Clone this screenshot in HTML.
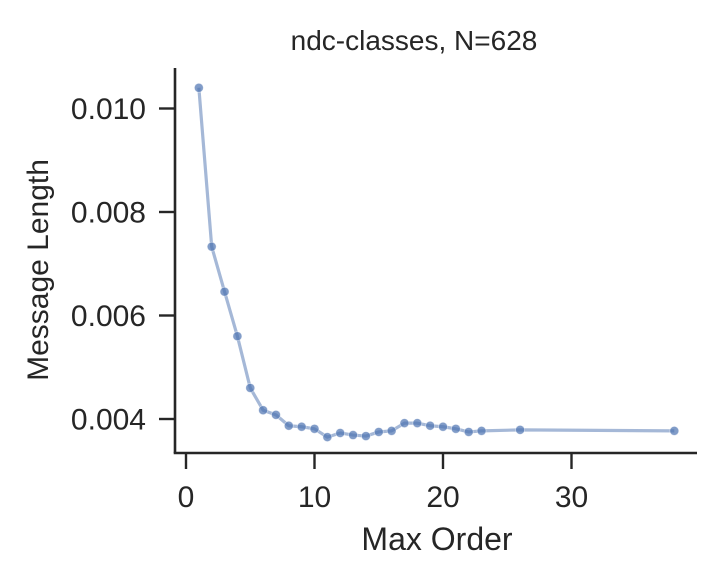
<!DOCTYPE html>
<html><head><meta charset="utf-8"><style>
html,body{margin:0;padding:0;background:#fff;}
svg{display:block;font-family:"Liberation Sans",Arial,sans-serif;}
</style></head><body>
<svg id="chart" width="723" height="582" viewBox="0 0 723 582"></svg>
<script>
const maxOrders=[1,2,3,4,5,6,7,8,9,10,11,12,13,14,15,16,17,18,19,20,21,22,23,26,38];
const messageLengths=[0.01040,0.00733,0.00646,0.00560,0.00460,0.00417,0.00408,0.00387,0.00385,0.00381,0.00365,0.00373,0.00369,0.00367,0.00375,0.00377,0.00392,0.00392,0.00387,0.00385,0.00381,0.00375,0.00377,0.00379,0.00377];
const xTicks=[0,10,20,30];
const yTicks=[0.004,0.006,0.008,0.010];
const yTickLabels=["0.004","0.006","0.008","0.010"];

const NS="http://www.w3.org/2000/svg";
const svg=document.getElementById('chart');
function X(v){return 186+v*12.85;}
function Y(v){return 419-(v-0.004)/0.002*103.5;}
function mk(t,a,p){const e=document.createElementNS(NS,t);for(const k in a)e.setAttribute(k,a[k]);(p||svg).appendChild(e);return e;}
const L=175,R=697,T=68,B=453;
let s=mk('line',{x1:L,y1:T,x2:L,y2:B,stroke:'#262626','stroke-width':2.6});


s=mk('line',{x1:L-1.3,y1:B,x2:R,y2:B,stroke:'#262626','stroke-width':2.6});


xTicks.forEach(v=>{
  const l=mk('line',{x1:X(v),y1:B,x2:X(v),y2:B+16,stroke:'#262626','stroke-width':2.4});
  
  
  const t=mk('text',{x:X(v),y:507,'text-anchor':'middle','font-size':30,fill:'#262626'});
  t.textContent=v;
  
  
});
yTicks.forEach((v,i)=>{
  const l=mk('line',{x1:L-16,y1:Y(v),x2:L,y2:Y(v),stroke:'#262626','stroke-width':2.4});
  
  
  const t=mk('text',{x:146,y:Y(v)+10.5,'text-anchor':'end','font-size':30,fill:'#262626'});
  t.textContent=yTickLabels[i];
  
  
});
let pts=maxOrders.map((o,i)=>X(o)+','+Y(messageLengths[i])).join(' ');
const line=mk('polyline',{points:pts,fill:'none',stroke:'#4c72b0','stroke-opacity':0.5,'stroke-width':3.2,'stroke-linejoin':'round'});


maxOrders.forEach((o,i)=>{
  const c=mk('circle',{cx:X(o),cy:Y(messageLengths[i]),r:4.5,fill:'#4c72b0','fill-opacity':0.7,stroke:'#fff','stroke-width':0.8,'stroke-opacity':0.5});
  
  
});
let t=mk('text',{x:437,y:550,'text-anchor':'middle','font-size':32,fill:'#262626'});
t.textContent='Max Order';


t=mk('text',{x:0,y:0,'text-anchor':'middle','font-size':30,fill:'#262626',transform:'translate(48,270) rotate(-90)'});
t.textContent='Message Length';


t=mk('text',{x:414,y:50,'text-anchor':'middle','font-size':28,fill:'#262626'});
t.textContent='ndc-classes, N=628';


</script>
</body></html>
